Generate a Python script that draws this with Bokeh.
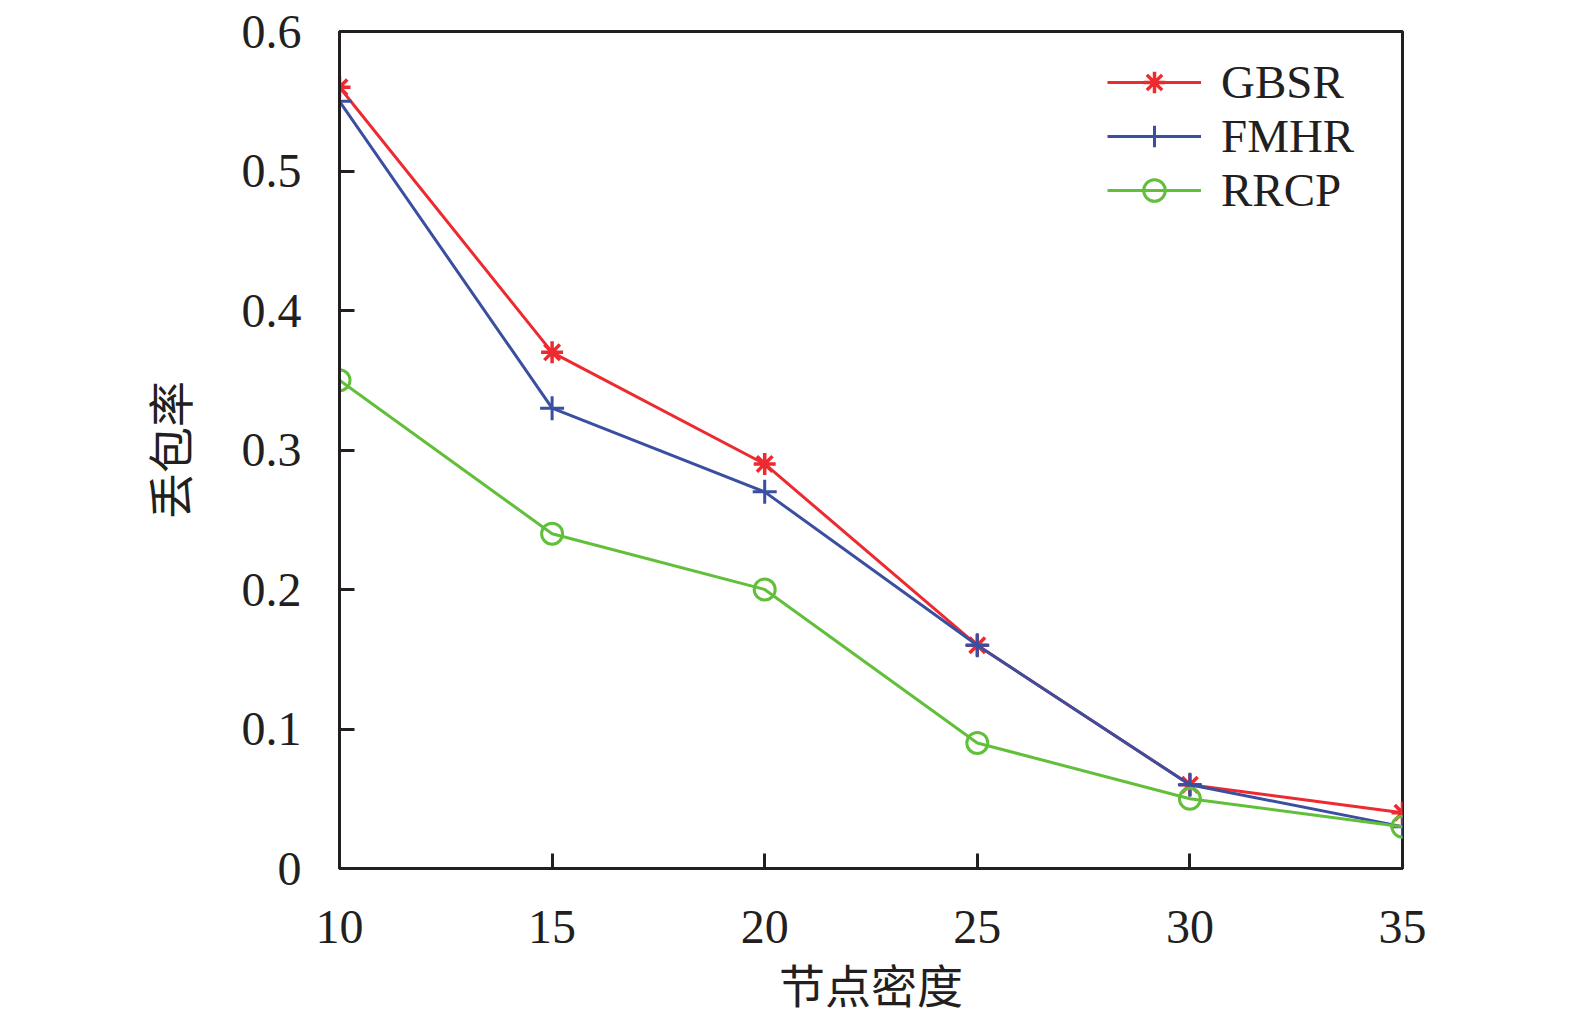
from bokeh.plotting import figure
from bokeh.models import Legend, LegendItem, Range1d, FixedTicker
from bokeh.embed import file_html
from bokeh.resources import INLINE

x_vals = [10, 15, 20, 25, 30, 35]
gbsr = [0.56, 0.37, 0.29, 0.16, 0.06, 0.04]
fmhr = [0.55, 0.33, 0.27, 0.16, 0.06, 0.03]
rrcp = [0.35, 0.24, 0.20, 0.09, 0.05, 0.03]
y_ticks = [0, 0.1, 0.2, 0.3, 0.4, 0.5, 0.6]
x_ticks = [10, 15, 20, 25, 30, 35]

RED = "#ec2a2f"
BLUE = "#3a4f9f"
GREEN = "#62bf3a"
SERIF = "Liberation Serif"
CJK = "Noto Sans CJK SC"

p = figure(frame_width=1063, frame_height=837, output_backend="svg", toolbar_location=None,
           x_range=Range1d(10, 35), y_range=Range1d(0, 0.6),
           min_border_left=339, min_border_right=160,
           min_border_top=31, min_border_bottom=138)
p.grid.visible = False
p.outline_line_color = "#231f20"
p.outline_line_width = 3
p.background_fill_color = "white"
p.border_fill_color = "white"

for ax in (p.xaxis[0], p.yaxis[0]):
    ax.axis_line_color = "#231f20"
    ax.axis_line_width = 3
    ax.major_tick_line_color = "#231f20"
    ax.major_tick_line_width = 3
    ax.major_tick_in = 15
    ax.major_tick_out = 0
    ax.minor_tick_line_color = None
    ax.major_label_text_font = SERIF
    ax.major_label_text_font_size = "48px"
    ax.major_label_text_color = "#231f20"
    ax.axis_label_text_font = CJK
    ax.axis_label_text_font_size = "46px"
    ax.axis_label_text_font_style = "normal"
    ax.axis_label_text_color = "#231f20"

p.xaxis.ticker = FixedTicker(ticks=x_ticks)
p.yaxis.ticker = FixedTicker(ticks=y_ticks)
p.yaxis.major_label_overrides = {0: "0"}
p.xaxis.major_label_standoff = 42
p.yaxis.major_label_standoff = 38
p.xaxis.axis_label = "节点密度"
p.yaxis.axis_label = "丢包率"
p.xaxis.axis_label_standoff = 4
p.yaxis.axis_label_standoff = 38

l1 = p.line(x_vals, gbsr, color=RED, line_width=3)
m1 = p.scatter(x_vals, gbsr, marker="asterisk", size=22, line_color=RED, line_width=3.5)
l2 = p.line(x_vals, fmhr, color=BLUE, line_width=3)
m2 = p.scatter(x_vals, fmhr, marker="cross", size=24, line_color=BLUE, line_width=3)
l3 = p.line(x_vals, rrcp, color=GREEN, line_width=3)
m3 = p.scatter(x_vals, rrcp, marker="circle", size=21, line_color=GREEN, fill_color=None, line_width=3)

legend = Legend(items=[
    LegendItem(label="GBSR", renderers=[l1, m1]),
    LegendItem(label="FMHR", renderers=[l2, m2]),
    LegendItem(label="RRCP", renderers=[l3, m3]),
], location=(768, 651))
legend.border_line_color = None
legend.background_fill_alpha = 0
legend.padding = 0
legend.margin = 0
legend.spacing = 0
legend.glyph_width = 94
legend.glyph_height = 54
legend.label_height = 54
legend.label_standoff = 20
legend.label_text_font = SERIF
legend.label_text_font_size = "47px"
legend.label_text_color = "#231f20"
p.add_layout(legend, "center")

open("out.html", "w").write(file_html(p, INLINE))
